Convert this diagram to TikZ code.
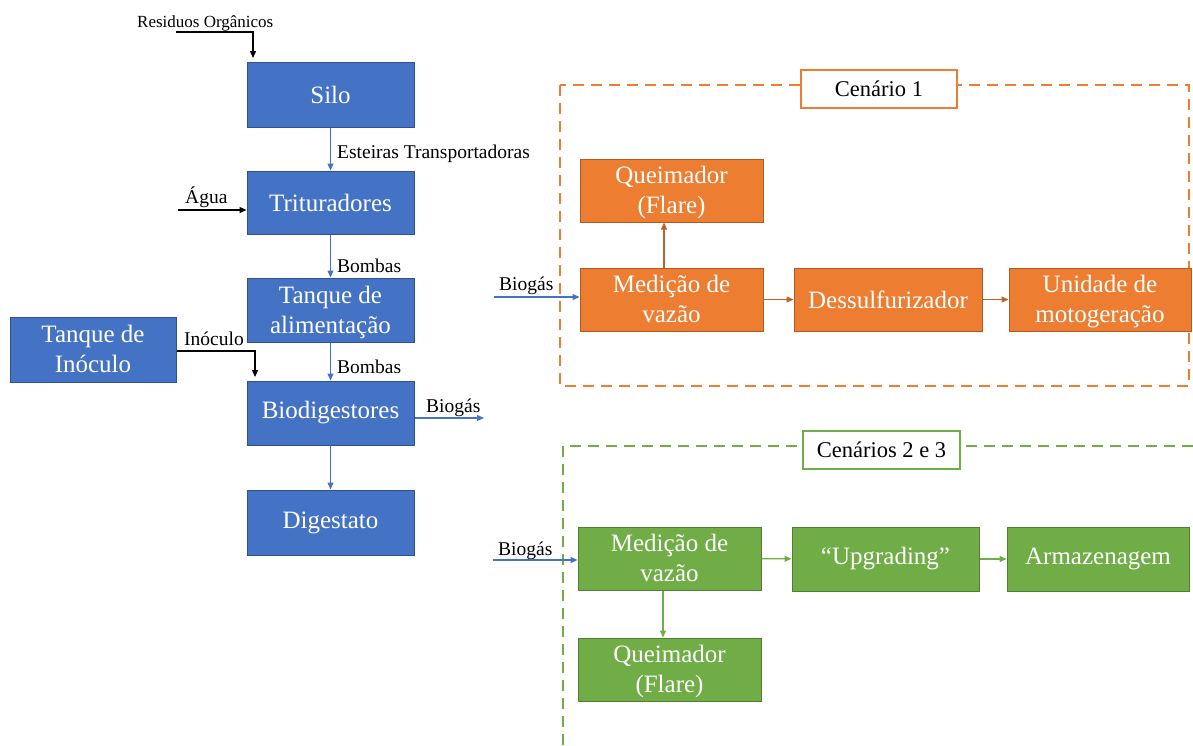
\documentclass[tikz,border=0pt]{standalone}
\usepackage{fontspec}
\setmainfont{Liberation Serif}
\usetikzlibrary{arrows.meta,calc}
\definecolor{bblue}{HTML}{4472C4}
\definecolor{bbluedk}{HTML}{2F528F}
\definecolor{borange}{HTML}{ED7D31}
\definecolor{borangedk}{HTML}{AE5A21}
\definecolor{barrowor}{HTML}{C0602A}
\definecolor{bgreen}{HTML}{70AD47}
\definecolor{bgreendk}{HTML}{507E32}
\newcommand{\twoln}[2]{\rule{0pt}{22pt}#1\\#2\rule[-6pt]{0pt}{6pt}}
\tikzset{
  blk/.style={draw, line width=1pt, inner sep=0pt, align=center, text=white,
    font=\fontsize{25}{30}\selectfont},
  blueblk/.style={blk, fill=bblue, draw=bbluedk},
  orblk/.style={blk, fill=borange, draw=borangedk},
  grblk/.style={blk, fill=bgreen, draw=bgreendk},
  scen/.style={draw, line width=1.5pt, fill=white, inner sep=0pt, text=black,
    font=\fontsize{22.5}{27}\selectfont},
  lbl/.style={inner sep=0pt, text=black, font=\fontsize{19.5}{23}\selectfont},
  tip/.style={-{Triangle[length=7pt,width=6pt]}},
  blkarrow/.style={tip, draw=black, line width=1.3pt},
  bluearrow/.style={tip, draw=bblue, line width=1.3pt},
  orarrow/.style={tip, draw=barrowor, line width=1.3pt},
  grarrow/.style={tip, draw=bgreen, line width=1.3pt},
  dashbox/.style={line width=1.5pt, dash pattern=on 11pt off 7pt},
}
\begin{document}
\begin{tikzpicture}[x=1pt,y=-1pt]
\useasboundingbox (0,0) rectangle (1193,745);
\fill[white] (0,0) rectangle (1193,745);

% dashed scenario frames
\draw[dashbox, draw=borange] (560,85) rectangle (1189,386);
\draw[dashbox, draw=bgreen] (1193,446) -- (563,446) -- (563,745);

% left column
\node[blueblk, minimum width=167pt, minimum height=65pt] (silo) at (330.5,94.5) {Silo};
\node[blueblk, minimum width=167pt, minimum height=63pt] (trit) at (330.5,202.5) {Trituradores};
\node[blueblk, minimum width=167pt, minimum height=64pt] (tanq) at (330.5,310) {\twoln{Tanque de}{alimentação}};
\node[blueblk, minimum width=167pt, minimum height=64pt] (bio) at (330.5,413) {Biodigestores};
\node[blueblk, minimum width=167pt, minimum height=65pt] (dig) at (330.5,522.5) {Digestato};
\node[blueblk, minimum width=166pt, minimum height=65pt] (inoc) at (93,349.5) {\twoln{Tanque de}{Inóculo}};

% Scenario 1
\node[scen, draw=borange, minimum width=156pt, minimum height=38pt] (c1) at (879,89) {Cenário 1};
\node[orblk, minimum width=183pt, minimum height=63pt] (oq) at (671.5,190.5) {\twoln{Queimador}{(Flare)}};
\node[orblk, minimum width=183pt, minimum height=63pt] (om) at (671.5,299.5) {\twoln{Medição de}{vazão}};
\node[orblk, minimum width=188pt, minimum height=63pt] (od) at (888,299.5) {Dessulfurizador};
\node[orblk, minimum width=182pt, minimum height=63pt] (ou) at (1100,299.5) {\twoln{Unidade de}{motogeração}};

% Scenarios 2 and 3
\node[scen, draw=bgreen, minimum width=157pt, minimum height=38pt] (c2) at (881.5,450) {Cenários 2 e 3};
\node[grblk, minimum width=183pt, minimum height=63pt] (gm) at (669.5,558.5) {\twoln{Medição de}{vazão}};
\node[grblk, minimum width=183pt, minimum height=63pt] (gq) at (669.5,669.5) {\twoln{Queimador}{(Flare)}};
\node[grblk, minimum width=187pt, minimum height=64pt] (gu) at (885.5,559) {“Upgrading”};
\node[grblk, minimum width=182pt, minimum height=64pt] (ga) at (1098,559) {Armazenagem};

% labels
\node[lbl, font=\fontsize{17}{20}\selectfont, anchor=base west] (lres) at (137,27) {Residuos Orgânicos};
\node[lbl, anchor=base west] (lest) at (337,158) {Esteiras Transportadoras};
\node[lbl, anchor=base west] (lagua) at (185,203) {Água};
\node[lbl, anchor=base west] (lb1) at (337,272) {Bombas};
\node[lbl, anchor=base west] (lb2) at (337,373) {Bombas};
\node[lbl, anchor=base west] (linoc) at (184,345) {Inóculo};
\node[lbl, anchor=base west] (lbio) at (426,412) {Biogás};
\node[lbl, anchor=base west] (lbio1) at (499,290) {Biogás};
\node[lbl, anchor=base west] (lbio2) at (498,555) {Biogás};

% free ends
\coordinate (r0) at (176,32);
\coordinate (r1) at (253,58);
\coordinate (a0) at (178,210);
\coordinate (i0) at (177,351);
\coordinate (i1) at (255,377);
\coordinate (bgout) at (484,418);
\coordinate (ob0) at (494,297);
\coordinate (gb0) at (493,560);

% left column connectors
\draw[blkarrow] (r0) -| (r1);
\draw[bluearrow] (silo) -- (trit);
\draw[blkarrow] (a0) -- (a0 -| trit.west);
\draw[bluearrow] (trit) -- (tanq);
\draw[bluearrow] (tanq) -- (bio);
\draw[blkarrow] (i0) -| (i1);
\draw[bluearrow] (bio.east |- bgout) -- (bgout);
\draw[bluearrow] (bio) -- (dig);

% scenario 1 connectors
\draw[bluearrow] (ob0) -- (ob0 -| om.west);
\draw[orarrow] ($(om.north)+(-7.5,0)$) -- ($(oq.south)+(-7.5,0)$);
\draw[orarrow] (om) -- (od);
\draw[orarrow] (od) -- (ou);

% scenario 2-3 connectors
\draw[bluearrow] (gb0) -- (gb0 -| gm.west);
\draw[grarrow] ($(gm.south)+(-6.5,0)$) -- ($(gq.north)+(-6.5,0)$);
\draw[grarrow] (gm) -- (gu);
\draw[grarrow] (gu) -- (ga);
\end{tikzpicture}
\end{document}
